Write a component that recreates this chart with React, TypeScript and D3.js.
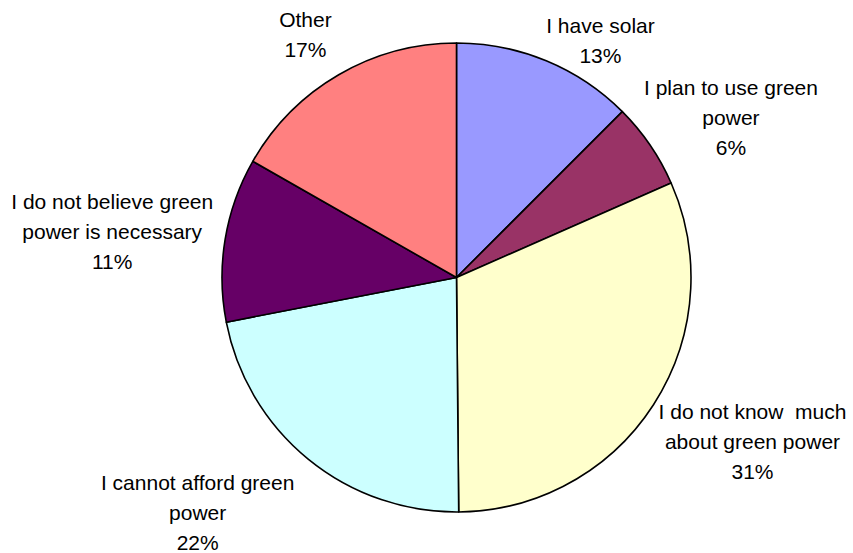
import React, { useEffect, useRef } from "react";
import * as d3 from "d3";

const categories: string[][] = [
  ["I have solar"],
  ["I plan to use green", "power"],
  ["I do not know  much", "about green power"],
  ["I cannot afford green", "power"],
  ["I do not believe green", "power is necessary"],
  ["Other"],
];
const values: number[] = [12.5, 5.9, 31.45, 22.1, 11.3, 16.75];
const colors: string[] = ["#9999FF", "#993366", "#FFFFCC", "#CCFFFF", "#660066", "#FF8080"];
// small layout nudges for label placement (dx, dy), in pixels
const labelNudge: [number, number][] = [
  [0, 8],
  [-11, 13],
  [0, -4],
  [-10, 11],
  [-6, 8],
  [-4, -13],
];

const W = 853;
const H = 553;
const CX = 456.5;
const CY = 277.5;
const R = 234.5;
const FONT = "21px 'Liberation Sans', Arial, sans-serif";
const FONT_SIZE = 21;
const LINE_H = 30;
const CAP = 15;

export default function App() {
  const ref = useRef<SVGSVGElement>(null);

  useEffect(() => {
    const svg = d3.select(ref.current);
    svg.selectAll("*").remove();

    const data = values.map((v, i) => ({ v, i }));
    const pie = d3
      .pie<{ v: number; i: number }>()
      .sort(null)
      .value((d) => d.v)
      .startAngle(0)
      .endAngle(2 * Math.PI);
    const arcs = pie(data);
    const arc = d3.arc<d3.PieArcDatum<{ v: number; i: number }>>().innerRadius(0).outerRadius(R);

    const g = svg.append("g").attr("transform", `translate(${CX},${CY})`);
    g.selectAll("path")
      .data(arcs)
      .join("path")
      .attr("d", arc as any)
      .attr("fill", (d) => colors[d.data.i])
      .attr("stroke", "#000")
      .attr("stroke-width", 1.6)
      .attr("stroke-linejoin", "round");

    const canvas = document.createElement("canvas");
    const ctx = canvas.getContext("2d")!;
    ctx.font = FONT;

    const clamp = (x: number) => Math.max(-1, Math.min(1, x));
    const r0 = R + 6;

    arcs.forEach((a) => {
      const i = a.data.i;
      const lines = [...categories[i], `${Math.round(a.data.v)}%`];
      const w = d3.max(lines, (l) => ctx.measureText(l).width) || 0;
      const h = CAP + LINE_H * (lines.length - 1);
      const mid = (a.startAngle + a.endAngle) / 2;
      const s = Math.sin(mid);
      const c = Math.cos(mid);
      const bx = r0 * s + (w / 2) * clamp(2.5 * s) + labelNudge[i][0];
      const by = -r0 * c - (h / 2) * clamp(2.5 * c) + labelNudge[i][1];
      const top = by - h / 2 + CAP;
      const t = g
        .append("text")
        .attr("text-anchor", "middle")
        .style("font", FONT)
        .attr("fill", "#000");
      lines.forEach((l, k) => {
        t.append("tspan")
          .attr("x", bx)
          .attr("y", top + k * LINE_H)
          .attr("xml:space", "preserve")
          .style("white-space", "pre")
          .text(l);
      });
    });
  }, []);

  return (
    <svg
      ref={ref}
      width={W}
      height={H}
      style={{ position: "absolute", left: 0, top: 0, background: "#fff", fontSize: FONT_SIZE }}
    />
  );
}
